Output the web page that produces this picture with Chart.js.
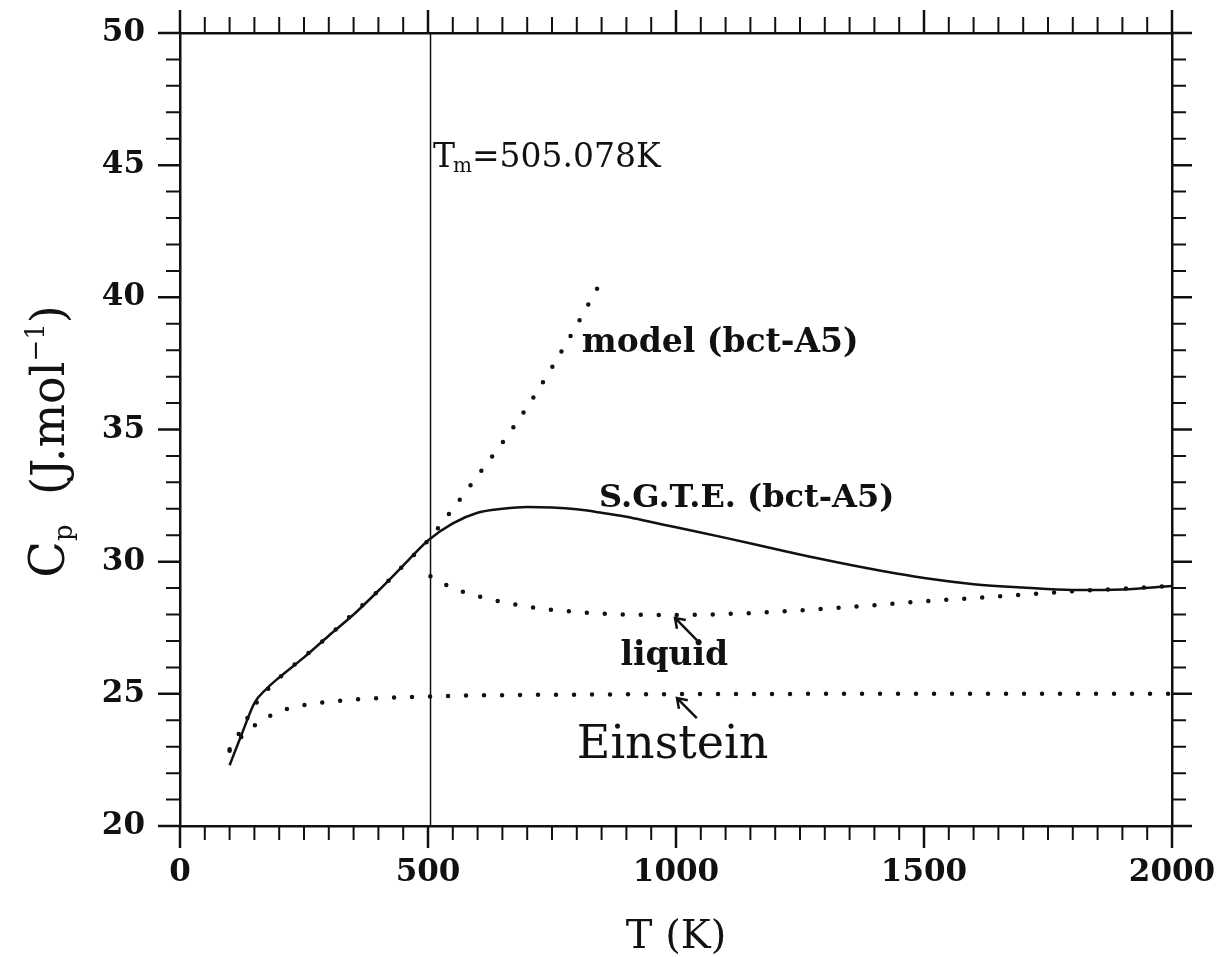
<!DOCTYPE html>
<html>
<head>
<meta charset="utf-8">
<script src="https://cdn.jsdelivr.net/npm/chart.js@4.4.1/dist/chart.umd.min.js"></script>
<style>
    html, body { margin: 0; padding: 0; background: #fff; }
    #wrap { width: 1224px; height: 957px; }
</style>
</head>
<body>
<div id="wrap"><canvas id="chartCp"></canvas></div>
<script>
// S.G.T.E. (bct-A5) - solid curve
const sgteT  = [100, 125, 150, 175, 200, 250, 300, 350, 400, 450, 500, 550, 600, 650, 700, 750, 800, 850, 900, 950, 1000, 1100, 1200, 1300, 1400, 1500, 1600, 1700, 1800, 1900, 2000];
const sgteCp = [22.3, 23.5, 24.65, 25.2, 25.62, 26.38, 27.2, 28.0, 28.9, 29.85, 30.8, 31.45, 31.85, 32.0, 32.07, 32.05, 31.98, 31.85, 31.7, 31.5, 31.3, 30.9, 30.48, 30.07, 29.7, 29.38, 29.15, 29.02, 28.93, 28.95, 29.08];

// model (bct-A5) - dotted
const modelT  = [100, 125, 150, 200, 250, 300, 350, 400, 450, 500, 550, 600, 650, 700, 750, 800, 843];
const modelCp = [22.9, 23.7, 24.55, 25.6, 26.4, 27.2, 28.05, 28.9, 29.85, 30.8, 32.0, 33.25, 34.5, 35.85, 37.35, 38.95, 40.4];

// liquid - dotted
const liquidT  = [505, 550, 600, 700, 800, 900, 1000, 1100, 1200, 1300, 1400, 1500, 1600, 1700, 1800, 1900, 2000];
const liquidCp = [29.45, 29.0, 28.7, 28.3, 28.1, 28.0, 27.98, 28.02, 28.1, 28.22, 28.35, 28.5, 28.62, 28.75, 28.88, 28.98, 29.08];

// Einstein - dotted
const einsteinT  = [100, 125, 150, 175, 200, 250, 300, 350, 400, 500, 600, 800, 1000, 1500, 2000];
const einsteinCp = [22.85, 23.4, 23.8, 24.1, 24.33, 24.57, 24.7, 24.78, 24.84, 24.9, 24.94, 24.97, 24.99, 25.0, 25.0];

// melting point
const meltT  = [505.078, 505.078];
const meltCp = [20, 50];

const xTickLabels = [0, 500, 1000, 1500, 2000];
const yTickLabels = [20, 25, 30, 35, 40, 45, 50];
const xMinorStep = 50;
const yMinorStep = 1;

// curve labels, anchored in data units (left, baseline)
const noteText = ['model (bct-A5)', 'S.G.T.E. (bct-A5)', 'liquid', 'Einstein'];
const noteT    = [810, 845, 888, 800];
const noteCp   = [37.93, 32.07, 26.09, 22.57];

// small arrows pointing at the curves
const arrowTipT   = [998, 1002];
const arrowTipCp  = [27.87, 24.84];
const arrowTailT  = [1042, 1042];
const arrowTailCp = [27.03, 24.08];

const INK = '#111111';
const SERIF = "'DejaVu Serif', 'Liberation Serif', serif";

function toXY(xs, ys) {
    return xs.map((x, i) => ({ x: x, y: ys[i] }));
}

function noPad(s) {
    s.paddingTop = 0;
    s.paddingBottom = 0;
    s.paddingLeft = 0;
    s.paddingRight = 0;
}

const dotted = {
    borderColor: INK,
    borderWidth: 4.5,
    borderDash: [0, 18],
    borderCapStyle: 'round',
    pointRadius: 0,
    fill: false,
    cubicInterpolationMode: 'monotone'
};

const paperPlugin = {
    id: 'paper',
    beforeDraw(chart) {
        const ctx = chart.ctx;
        ctx.save();
        ctx.fillStyle = '#ffffff';
        ctx.fillRect(0, 0, chart.width, chart.height);
        ctx.restore();
    },
    afterDraw(chart) {
        const ctx = chart.ctx;
        const { x, y } = chart.scales;
        const area = chart.chartArea;
        ctx.save();
        ctx.strokeStyle = INK;
        ctx.fillStyle = INK;

        // tick marks, all pointing outward
        for (let v = x.min; v <= x.max; v += xMinorStep) {
            const px = x.getPixelForValue(v);
            const major = v % 500 === 0;
            ctx.lineWidth = major ? 2.5 : 2;
            ctx.beginPath();
            ctx.moveTo(px, area.bottom);
            ctx.lineTo(px, area.bottom + (major ? 22 : 14));
            ctx.moveTo(px, area.top);
            ctx.lineTo(px, area.top - (major ? 23 : 16));
            ctx.stroke();
        }
        for (let v = y.min; v <= y.max; v += yMinorStep) {
            const py = y.getPixelForValue(v);
            const major = v % 5 === 0;
            ctx.lineWidth = major ? 2.5 : 2;
            ctx.beginPath();
            ctx.moveTo(area.left, py);
            ctx.lineTo(area.left - (major ? 22 : 14), py);
            ctx.moveTo(area.right, py);
            ctx.lineTo(area.right + (major ? 20 : 14), py);
            ctx.stroke();
        }

        // curve labels
        ctx.textBaseline = 'alphabetic';
        ctx.textAlign = 'left';
        const noteFonts = ['bold 33px ' + SERIF, 'bold 32px ' + SERIF, 'bold 33px ' + SERIF, '46px ' + SERIF];
        noteText.forEach((t, i) => {
            ctx.font = noteFonts[i];
            ctx.fillText(t, x.getPixelForValue(noteT[i]), y.getPixelForValue(noteCp[i]));
        });

        // T_m label
        let tx = x.getPixelForValue(510);
        const ty = y.getPixelForValue(44.93);
        ctx.font = '33px ' + SERIF;
        ctx.fillText('T', tx, ty);
        tx += ctx.measureText('T').width - 2;
        ctx.font = '20px ' + SERIF;
        ctx.fillText('m', tx, ty + 5);
        tx += ctx.measureText('m').width;
        ctx.font = '33px ' + SERIF;
        ctx.fillText('=505.078K', tx, ty);

        // arrows (open heads)
        ctx.lineWidth = 2.5;
        arrowTipT.forEach((t, i) => {
            const x0 = x.getPixelForValue(arrowTailT[i]);
            const y0 = y.getPixelForValue(arrowTailCp[i]);
            const x1 = x.getPixelForValue(t);
            const y1 = y.getPixelForValue(arrowTipCp[i]);
            const ang = Math.atan2(y1 - y0, x1 - x0);
            ctx.beginPath();
            ctx.moveTo(x0, y0);
            ctx.lineTo(x1, y1);
            ctx.moveTo(x1 - 11 * Math.cos(ang - 0.6), y1 - 11 * Math.sin(ang - 0.6));
            ctx.lineTo(x1, y1);
            ctx.lineTo(x1 - 11 * Math.cos(ang + 0.6), y1 - 11 * Math.sin(ang + 0.6));
            ctx.stroke();
        });

        // axis titles
        ctx.font = '40px ' + SERIF;
        ctx.textAlign = 'center';
        ctx.fillText('T (K)', (area.left + area.right) / 2, 948);

        ctx.translate(64, (area.top + area.bottom) / 2 + 12);
        ctx.rotate(-Math.PI / 2);
        const parts = [
            { t: 'C', f: '48px ', dy: 0 },
            { t: 'p', f: '26px ', dy: 8 },
            { t: '  (J.mol', f: '46px ', dy: 0 },
            { t: '\u22121', f: '26px ', dy: -20 },
            { t: ')', f: '46px ', dy: 0 }
        ];
        let total = 0;
        parts.forEach(p => { ctx.font = p.f + SERIF; total += ctx.measureText(p.t).width; });
        let cx = -total / 2;
        ctx.textAlign = 'left';
        parts.forEach(p => {
            ctx.font = p.f + SERIF;
            ctx.fillText(p.t, cx, p.dy);
            cx += ctx.measureText(p.t).width;
        });
        ctx.restore();
    }
};

const tickFont = { family: SERIF, size: 31, weight: 'bold' };

new Chart(document.getElementById('chartCp'), {
    type: 'line',
    data: {
        datasets: [
            {
                label: 'T_m',
                data: toXY(meltT, meltCp),
                borderColor: INK,
                borderWidth: 1.5,
                pointRadius: 0,
                fill: false
            },
            {
                label: 'S.G.T.E. (bct-A5)',
                data: toXY(sgteT, sgteCp),
                borderColor: INK,
                borderWidth: 2.5,
                pointRadius: 0,
                fill: false,
                cubicInterpolationMode: 'monotone'
            },
            Object.assign({ label: 'model (bct-A5)', data: toXY(modelT, modelCp) }, dotted),
            Object.assign({ label: 'liquid', data: toXY(liquidT, liquidCp) }, dotted),
            Object.assign({ label: 'Einstein', data: toXY(einsteinT, einsteinCp) }, dotted)
        ]
    },
    options: {
        responsive: true,
        maintainAspectRatio: false,
        animation: false,
        layout: { padding: 0, autoPadding: false },
        plugins: {
            legend: { display: false },
            tooltip: { enabled: false }
        },
        scales: {
            x: {
                type: 'linear',
                position: 'bottom',
                min: 0,
                max: 2000,
                afterBuildTicks: s => { s.ticks = xTickLabels.map(v => ({ value: v })); },
                afterFit: s => { s.height = 131; noPad(s); },
                grid: { display: false, drawTicks: false },
                border: { display: true, color: INK, width: 2.5 },
                ticks: { font: tickFont, color: INK, padding: 28, maxRotation: 0, autoSkip: false, callback: v => String(v) }
            },
            xTop: {
                type: 'linear',
                position: 'top',
                min: 0,
                max: 2000,
                afterFit: s => { s.height = 33; noPad(s); },
                grid: { display: false, drawTicks: false },
                border: { display: true, color: INK, width: 2.5 },
                ticks: { display: false }
            },
            y: {
                type: 'linear',
                position: 'left',
                min: 20,
                max: 50,
                afterBuildTicks: s => { s.ticks = yTickLabels.map(v => ({ value: v })); },
                afterFit: s => { s.width = 180; noPad(s); },
                grid: { display: false, drawTicks: false },
                border: { display: true, color: INK, width: 2.5 },
                ticks: { font: tickFont, color: INK, padding: 35, callback: v => String(v) }
            },
            yRight: {
                type: 'linear',
                position: 'right',
                min: 20,
                max: 50,
                afterFit: s => { s.width = 52; noPad(s); },
                grid: { display: false, drawTicks: false },
                border: { display: true, color: INK, width: 2.5 },
                ticks: { display: false }
            }
        }
    },
    plugins: [paperPlugin]
});
</script>
</body>
</html>
